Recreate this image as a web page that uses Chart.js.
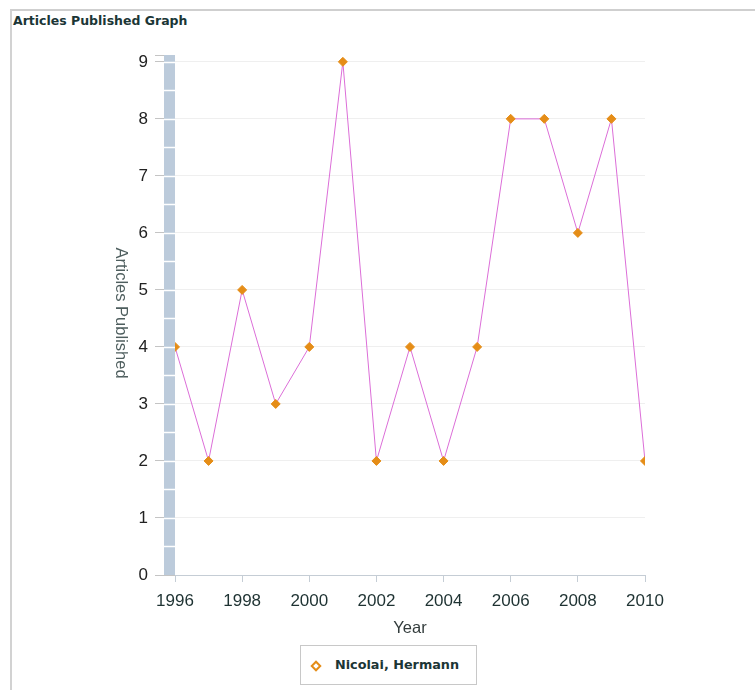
<!DOCTYPE html>
<html>
<head>
<meta charset="utf-8">
<script src="https://cdn.jsdelivr.net/npm/chart.js@4/dist/chart.umd.min.js"></script>
<style>
  body { margin: 0; background: #fff; }
  #wrap { position: relative; width: 755px; height: 690px; overflow: hidden; }
  #panel { position: absolute; left: 10px; top: 9px; right: -5px; bottom: -5px;
           border-top: 2px solid #cfcfcf; border-left: 2px solid #d2d2d2; }
  #title { position: absolute; left: 13px; top: 13px; font: bold 12.5px "DejaVu Sans", sans-serif; color: #1b3636; }
  canvas { position: absolute; left: 0; top: 0; }
  #legend { position: absolute; left: 300px; top: 645px; width: 175px; height: 38px;
            border: 1px solid #c8c8c8; background: #fff; }
  #legend .mark { position: absolute; left: 11px; top: 16px; width: 4px; height: 4px;
                  background: #fff; border: 2.5px solid #e58d17; transform: rotate(45deg); }
  #legend .txt { position: absolute; left: 34px; top: 11px; font: bold 12.8px "DejaVu Sans", sans-serif; color: #1b3535; }
</style>
</head>
<body>
<div id="wrap">
  <div id="panel"></div>
  <div id="title">Articles Published Graph</div>
  <canvas id="c" width="755" height="690"></canvas>
  <div id="legend"><span class="mark"></span><span class="txt"></span></div>
</div>
<script>
// data
const seriesName = 'Nicolai, Hermann';
const years = [1996, 1997, 1998, 1999, 2000, 2001, 2002, 2003, 2004, 2005, 2006, 2007, 2008, 2009, 2010];
const articles = [4, 2, 5, 3, 4, 9, 2, 4, 2, 4, 8, 8, 6, 8, 2];
const xTitle = 'Year';
const yTitle = 'Articles Published';

document.querySelector('#legend .txt').textContent = seriesName;

const labelFont = { family: '"Liberation Sans", Arial, sans-serif', size: 17 };

// grey-blue band on the y axis + axis titles
const axisDeco = {
    id: 'axisDeco',
    afterDatasetsDraw(chart) {
        const { ctx, chartArea, scales: { y } } = chart;
        const bx = chartArea.left - 11;
        ctx.save();
        ctx.fillStyle = '#bccbdb';
        ctx.fillRect(bx, chartArea.top, 11, chartArea.bottom - chartArea.top);
        ctx.strokeStyle = '#ffffff';
        ctx.lineWidth = 1.5;
        for (let v = 0.5; v < 9.1; v += 0.5) {
            const py = Math.round(y.getPixelForValue(v)) + 0.5;
            ctx.beginPath();
            ctx.moveTo(bx, py);
            ctx.lineTo(chartArea.left, py);
            ctx.stroke();
        }
        // short end tick at the top of the axis
        ctx.strokeStyle = '#c4c4c4';
        ctx.lineWidth = 1;
        ctx.beginPath();
        ctx.moveTo(chartArea.left - 20, chartArea.top + 0.5);
        ctx.lineTo(bx, chartArea.top + 0.5);
        ctx.stroke();
        ctx.restore();
    },
    afterDraw(chart) {
        const { ctx, chartArea } = chart;
        ctx.save();
        ctx.font = '16.5px "Liberation Sans", Arial, sans-serif';
        ctx.textAlign = 'center';
        ctx.textBaseline = 'middle';
        ctx.fillStyle = '#333c3c';
        ctx.fillText(xTitle, (chartArea.left + chartArea.right) / 2, 628);
        ctx.translate(121, 313);
        ctx.rotate(Math.PI / 2);
        ctx.fillStyle = '#4e5e5e';
        ctx.fillText(yTitle, 0, 0);
        ctx.restore();
    }
};

new Chart(document.getElementById('c'), {
    type: 'line',
    data: {
        datasets: [{
            label: seriesName,
            data: years.map((yr, i) => ({ x: yr, y: articles[i] })),
            borderColor: '#dc6ed8',
            borderWidth: 1,
            tension: 0,
            pointStyle: 'rectRot',
            pointRadius: 4.5,
            pointHoverRadius: 4.5,
            pointBackgroundColor: '#e58d17',
            pointBorderColor: '#e58d17',
            pointBorderWidth: 1
        }]
    },
    options: {
        responsive: false,
        animation: false,
        layout: { padding: { left: 0, top: 55, right: 110, bottom: 0 } },
        plugins: {
            legend: { display: false },
            tooltip: { enabled: false }
        },
        scales: {
            x: {
                type: 'linear',
                min: 1996,
                max: 2010,
                afterFit(scale) { scale.height = 115; },
                ticks: { stepSize: 2, color: '#1e3232', font: labelFont, padding: 9, maxRotation: 0,
                         callback: v => String(v) },
                grid: { drawOnChartArea: false, drawTicks: true, tickLength: 7, tickColor: '#c5cdd5' },
                border: { color: '#c5cdd5', width: 1 }
            },
            y: {
                min: 0,
                max: 9.12,
                afterFit(scale) { scale.width = 175; },
                ticks: { stepSize: 1, includeBounds: false, color: '#222222', font: labelFont, padding: 7 },
                grid: { color: '#efefef', tickLength: 20, tickColor: '#c4c4c4' },
                border: { display: false }
            }
        }
    },
    plugins: [axisDeco]
});
</script>
</body>
</html>
